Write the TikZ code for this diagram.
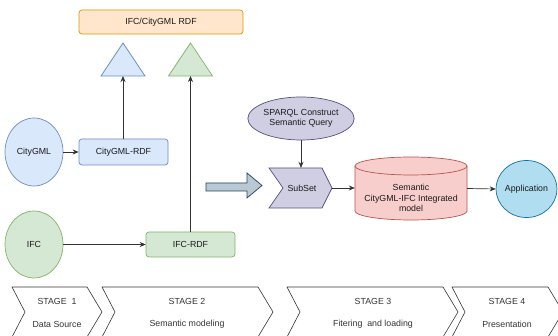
\documentclass[tikz,border=0pt]{standalone}
\usepackage{fontspec}
\setmainfont{Liberation Sans}
\usetikzlibrary{arrows.meta,shapes.geometric}
\definecolor{bluef}{HTML}{DAE8FC}\definecolor{blues}{HTML}{6C8EBF}
\definecolor{greenf}{HTML}{D5E8D4}\definecolor{greens}{HTML}{82B366}
\definecolor{orangef}{HTML}{FFE6CC}\definecolor{oranges}{HTML}{D79B00}
\definecolor{purpf}{HTML}{D0CEE2}\definecolor{purps}{HTML}{56517E}
\definecolor{redf}{HTML}{F8CECC}\definecolor{reds}{HTML}{B85450}
\definecolor{appf}{HTML}{B1DDF0}\definecolor{apps}{HTML}{10739E}
\definecolor{bigf}{HTML}{BAC8D3}\definecolor{bigs}{HTML}{23445D}
\definecolor{txt}{HTML}{1A1A1A}
\definecolor{lin}{HTML}{333333}
\begin{document}
\begin{tikzpicture}[x=1pt,y=-1pt,
  font=\fontsize{8.8}{10.5}\selectfont, text=txt,
  rbox/.style={draw, rounded corners=3pt, inner sep=0pt, line width=0.7pt, align=center},
  ell/.style={draw, ellipse, inner sep=0pt, line width=0.7pt, align=center},
  conn/.style={draw=lin, line width=0.7pt, -{Stealth[length=6pt,width=5pt]}},
  stagebox/.style={draw=lin, fill=white, line width=0.6pt},
  stagetxt/.style={text=lin}
]
\clip (0,0) rectangle (558,336);
\fill[white] (0,0) rectangle (558,336);

% top box and triangles
\node[rbox, draw=oranges, fill=orangef, minimum width=164pt, minimum height=24pt] (top) at (161,22) {IFC/CityGML RDF};
\draw[draw=blues, fill=bluef, line width=0.7pt] (101,76) -- (123,43) -- (145,76) -- cycle;
\draw[draw=greens, fill=greenf, line width=0.7pt] (168.5,76) -- (190.5,43) -- (212.5,76) -- cycle;
\coordinate (tb) at (123,76);
\coordinate (tg) at (190.5,76);

% data sources
\node[ell, draw=blues, fill=bluef, minimum width=58pt, minimum height=68pt] (cg) at (34,152) {CityGML};
\node[rbox, draw=blues, fill=bluef, minimum width=89pt, minimum height=26pt] (crdf) at (123.5,152) {CityGML-RDF};
\node[ell, draw=greens, fill=greenf, minimum width=58pt, minimum height=67pt] (ifc) at (34,244.5) {IFC};
\node[rbox, draw=greens, fill=greenf, minimum width=89pt, minimum height=25pt] (irdf) at (190.5,244.5) {IFC-RDF};

\draw[conn] (cg.east) -- (crdf.west);
\draw[conn] (ifc.east) -- (irdf.west);
\draw[conn] (crdf.north -| tb) -- (tb);
\draw[conn] (irdf.north -| tg) -- (tg);

% block arrow
\draw[draw=bigs, fill=bigf, line width=0.7pt] (206,183) -- (247,183) -- (247,173) -- (262,185.5) -- (247,198) -- (247,191) -- (206,191) -- cycle;

% query and subset
\node[ell, draw=purps, fill=purpf, minimum width=98pt, minimum height=43pt] (sp) at (301,118.5) {SPARQL Construct\\Semantic Query};
\draw[draw=purps, fill=purpf, line width=0.7pt] (269,168) -- (322,168) -- (332,188) -- (322,208) -- (269,208) -- (283,188) -- cycle;
\node[inner sep=0pt, minimum width=63pt, minimum height=40pt] (ss) at (300.5,188) {};
\node at (302,188) {SubSet};
\draw[conn] (sp.south) -- (sp.south |- ss.north);

% cylinder
\draw[draw=reds, fill=redf, line width=0.7pt] (355,166) -- (355,211) arc[start angle=180, end angle=0, x radius=56, y radius=9] -- (467,166) arc[start angle=0, end angle=-180, x radius=56, y radius=9] -- cycle;
\draw[draw=reds, line width=0.7pt] (355,166) arc[start angle=180, end angle=0, x radius=56, y radius=9];
\node[inner sep=0pt, minimum width=112pt, minimum height=63pt] (db) at (411,188.5) {};
\node[align=center, inner sep=0pt] at (411,198) {Semantic\\CityGML-IFC Integrated\\model};
\draw[conn] (ss.east) -- (ss.east -| db.west);

% application
\node[ell, draw=apps, fill=appf, minimum width=59pt, minimum height=57pt] (app) at (526.5,189) {Application};
\draw[conn] (db.east |- 0,188.5) -- (app.west);

% stages
\draw[stagebox] (12,287) -- (87,287) -- (102,312) -- (87,337) -- (12,337) -- (25,312) -- cycle;
\draw[stagebox] (102,287) -- (258,287) -- (273,312) -- (258,337) -- (102,337) -- (115,312) -- cycle;
\draw[stagebox] (287,287) -- (443,287) -- (458,312) -- (443,337) -- (287,337) -- (300,312) -- cycle;
\draw[stagebox] (452,287) -- (548,287) -- (563,312) -- (548,337) -- (452,337) -- (465,312) -- cycle;
\node[stagetxt] (s1a) at (57,301) {STAGE\ \ 1};
\node[stagetxt] (s1b) at (57,324) {Data Source};
\node[stagetxt] (s2a) at (187,301) {STAGE 2};
\node[stagetxt] (s2b) at (187,324) {Semantic modeling};
\node[stagetxt] (s3a) at (373,301) {STAGE 3};
\node[stagetxt] (s3b) at (373,324) {Fitering\ \ and loading};
\node[stagetxt] (s4a) at (507,301) {STAGE 4};
\node[stagetxt] (s4b) at (507,324) {Presentation};
\end{tikzpicture}
\end{document}
